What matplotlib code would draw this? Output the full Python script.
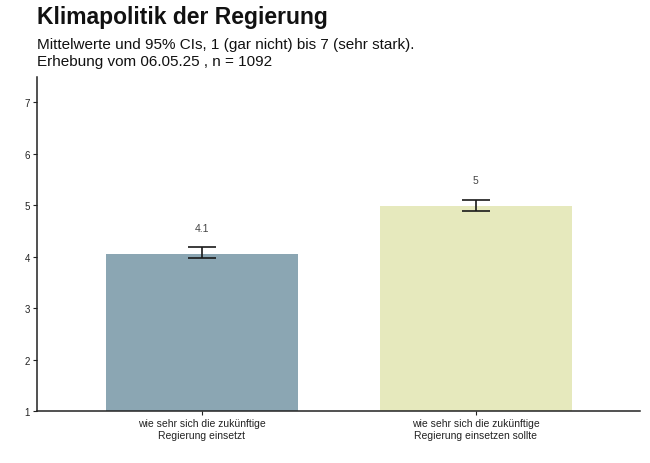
import matplotlib.pyplot as plt
import numpy as np

plt.rcParams['font.family'] = ['Liberation Sans', 'DejaVu Sans']

# Daten
kategorien = ["wie sehr sich die zukünftige\nRegierung einsetzt",
              "wie sehr sich die zukünftige\nRegierung einsetzen sollte"]
mittelwerte = [4.06, 4.98]
ci_unten = [3.98, 4.88]
ci_oben = [4.18, 5.10]
farben = ["#8BA6B3", "#E6E9BD"]

fig = plt.figure(figsize=(6.5, 4.64), dpi=100)
ax = fig.add_axes([0.057, 0.112, 0.928, 0.72])

x = np.arange(1, len(kategorien) + 1)
ax.bar(x, mittelwerte, width=0.7, color=farben, zorder=1)

fehler = [np.array(mittelwerte) - np.array(ci_unten), np.array(ci_oben) - np.array(mittelwerte)]
ax.errorbar(x, mittelwerte, yerr=fehler, fmt='none', ecolor='#1a1a1a',
            elinewidth=1.2, capsize=10, capthick=1.2, zorder=2)

for xi, m in zip(x, mittelwerte):
    ax.text(xi, m + 0.5, f"{round(m, 1):g}", ha='center', va='center',
            fontsize=7.5, color='#444444')

ax.set_xlim(0.4, 2.6)
ax.set_ylim(1, 7.49)
ax.set_xticks(x)
ax.set_xticklabels(kategorien, fontsize=7.5, color='#222222')
ax.set_yticks(range(1, 8))
ax.tick_params(axis='y', labelsize=7, length=3, width=0.8, colors='#222222', pad=2)
ax.tick_params(axis='x', length=3, width=0.8, colors='#222222', pad=2)

for s in ['top', 'right']:
    ax.spines[s].set_visible(False)
for s in ['left', 'bottom']:
    ax.spines[s].set_linewidth(1.1)
    ax.spines[s].set_color('#222222')

fig.text(0.057, 0.962, "Klimapolitik der Regierung", fontsize=16.5, fontweight='bold',
         ha='left', va='center', color='#111111')
fig.text(0.057, 0.902, "Mittelwerte und 95% CIs, 1 (gar nicht) bis 7 (sehr stark).",
         fontsize=11, ha='left', va='center', color='#111111')
fig.text(0.057, 0.866, "Erhebung vom 06.05.25 , n = 1092",
         fontsize=11, ha='left', va='center', color='#111111')

fig.savefig("out.png", dpi=100)
